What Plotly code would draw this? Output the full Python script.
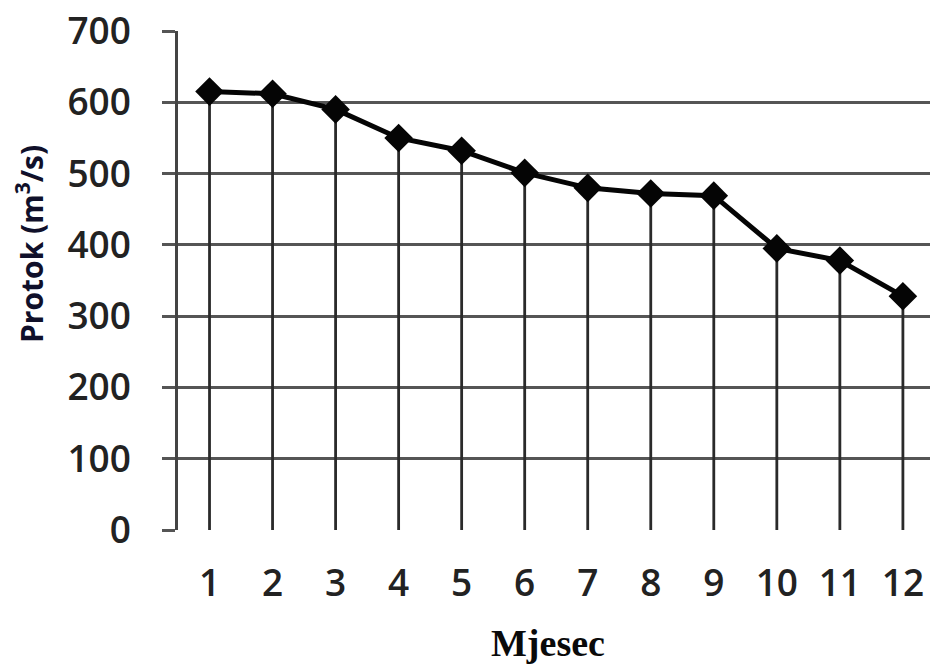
import plotly.graph_objects as go

months = [1, 2, 3, 4, 5, 6, 7, 8, 9, 10, 11, 12]
flow = [615, 612, 590, 550, 532, 501, 480, 472, 469, 395, 378, 328]
y_ticks = [0, 100, 200, 300, 400, 500, 600, 700]

fig = go.Figure()
fig.add_trace(go.Scatter(
    x=months, y=flow, mode="lines+markers",
    line=dict(color="#050505", width=5),
    marker=dict(symbol="diamond", size=22, color="#050505"),
    error_y=dict(type="data", symmetric=False, array=[0] * len(flow),
                 arrayminus=flow, width=0, thickness=2.8, color="#2a2a2a"),
    showlegend=False,
))

L, R, T, B = 178, 3, 31, 138
W, H = 933, 668
pw, ph = W - L - R, H - T - B

def px_x(x):
    return (x - L) / pw

def px_y(y):
    return (H - B - y) / ph

fig.update_layout(
    width=W, height=H,
    margin=dict(l=L, r=R, t=T, b=B),
    paper_bgcolor="white", plot_bgcolor="white",
    font=dict(family="Open Sans", color="#1a1a1a"),
    xaxis=dict(
        range=[0.5, 12.43], tickmode="array", tickvals=months,
        ticktext=[str(m) for m in months], automargin=False,
        showgrid=False, zeroline=False, showline=False, ticks="",
        tickfont=dict(size=37, color="#222222", weight=600),
        ticklabelstandoff=28,
    ),
    yaxis=dict(
        range=[0, 700], tickmode="array", tickvals=y_ticks, automargin=False,
        showgrid=True, gridcolor="#555555", gridwidth=2.5,
        zeroline=False, showline=True, linecolor="#444444", linewidth=2.5,
        ticks="outside", ticklen=13, tickwidth=2.5, tickcolor="#555555",
        tickfont=dict(size=37, color="#222222", weight=600),
        ticklabelstandoff=24,
    ),
    annotations=[
        dict(text="<b>Protok (m<sup>3</sup>/s)</b>", textangle=-90,
             xref="paper", yref="paper", x=px_x(30), y=px_y(244),
             xanchor="center", yanchor="middle", showarrow=False,
             font=dict(family="Open Sans", size=30, color="#10102a")),
        dict(text="<b>Mjesec</b>",
             xref="paper", yref="paper", x=px_x(548), y=px_y(643),
             xanchor="center", yanchor="middle", showarrow=False,
             font=dict(family="Liberation Serif", size=38, color="#0a0a0a")),
    ],
)

fig.write_html("out.html", config={"displayModeBar": False},
               post_script="document.body.style.margin='0';document.body.style.overflow='hidden';")
